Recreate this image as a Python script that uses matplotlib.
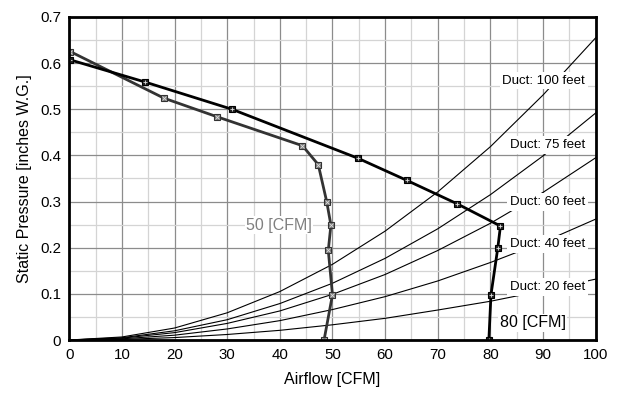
import numpy as np
import matplotlib.pyplot as plt

plt.rcParams['font.family'] = ['Liberation Sans', 'DejaVu Sans']

# duct system curves, read at every 10 CFM
DUCT_X = [0, 10, 20, 30, 40, 50, 60, 70, 80, 90, 100]
DUCT_100 = [0, 0.0066, 0.026, 0.059, 0.105, 0.164, 0.236, 0.321, 0.419, 0.531, 0.655]
DUCT_75 = [0, 0.0049, 0.020, 0.044, 0.079, 0.123, 0.177, 0.241, 0.315, 0.399, 0.492]
DUCT_60 = [0, 0.0040, 0.016, 0.036, 0.063, 0.099, 0.142, 0.194, 0.253, 0.320, 0.395]
DUCT_40 = [0, 0.0026, 0.0105, 0.024, 0.042, 0.066, 0.094, 0.128, 0.168, 0.212, 0.262]
DUCT_20 = [0, 0.0013, 0.0053, 0.012, 0.021, 0.033, 0.047, 0.065, 0.084, 0.107, 0.132]
DUCT_LABELS = ["Duct: 100 feet", "Duct: 75 feet", "Duct: 60 feet", "Duct: 40 feet", "Duct: 20 feet"]
DUCT_LABEL_Y = [0.562, 0.423, 0.299, 0.208, 0.115]

# fan curves
FAN50_X = [0.2, 18.0, 28.0, 44.3, 47.3, 48.9, 49.7, 49.2, 50.0, 48.4]
FAN50_P = [0.625, 0.524, 0.484, 0.421, 0.380, 0.300, 0.249, 0.194, 0.098, 0.0]
FAN80_X = [0.2, 14.4, 30.9, 54.8, 64.1, 73.7, 81.9, 81.4, 80.1, 79.7]
FAN80_P = [0.607, 0.559, 0.500, 0.394, 0.346, 0.295, 0.247, 0.200, 0.098, 0.0]

fig = plt.figure(figsize=(6.18, 3.94), dpi=100)
ax = fig.add_axes([0.112, 0.137, 0.852, 0.820])

ducts = [DUCT_100, DUCT_75, DUCT_60, DUCT_40, DUCT_20]
for d in ducts:
    ax.plot(DUCT_X, d, color='black', lw=0.8, zorder=3, clip_on=False)
for lab, ly in zip(DUCT_LABELS, DUCT_LABEL_Y):
    ax.text(98.0, ly, lab, ha='right', va='center', fontsize=9.5, zorder=4,
            bbox=dict(facecolor='white', edgecolor='none', pad=2))

ax.plot(FAN50_X, FAN50_P, color='#333333', lw=2, zorder=5)
ax.plot(FAN50_X, FAN50_P, ls='none', marker='s', ms=5, mfc='#777777', mec='#333333', mew=0.8, zorder=6)
ax.plot(FAN50_X, FAN50_P, ls='none', marker='x', ms=2.5, mec='#dddddd', mew=0.6, zorder=7)
ax.plot(FAN80_X, FAN80_P, color='black', lw=2, zorder=5)
ax.plot(FAN80_X, FAN80_P, ls='none', marker='s', ms=5, mfc='#222222', mec='black', mew=0.8, zorder=6)
ax.plot(FAN80_X, FAN80_P, ls='none', marker='+', ms=3, mec='#dddddd', mew=0.6, zorder=7)

ax.text(33.6, 0.249, "50 [CFM]", ha='left', va='center', fontsize=11.5, color='#808080', zorder=4,
        bbox=dict(facecolor='white', edgecolor='none', pad=1))
ax.text(81.8, 0.037, "80 [CFM]", ha='left', va='center', fontsize=11.5, color='black', zorder=4,
        bbox=dict(facecolor='white', edgecolor='none', pad=1))

ax.set_xlim(0, 100)
ax.set_ylim(0, 0.7)
ax.set_xticks(np.arange(0, 101, 10))
ax.set_xticks(np.arange(0, 101, 5), minor=True)
ax.set_yticks(np.arange(0, 0.71, 0.1))
ax.set_yticks(np.arange(0, 0.71, 0.05), minor=True)
ax.set_xticklabels([str(v) for v in range(0, 101, 10)])
ax.set_yticklabels(['0', '0.1', '0.2', '0.3', '0.4', '0.5', '0.6', '0.7'])
ax.grid(which='major', color='#8c8c8c', lw=0.9)
ax.grid(which='minor', color='#d4d4d4', lw=0.9)
ax.set_axisbelow(True)
ax.tick_params(which='both', length=0, labelsize=10.8, pad=6)
for s in ax.spines.values():
    s.set_linewidth(2)
    s.set_zorder(8)

ax.set_xlabel('Airflow [CFM]', fontsize=11.5, labelpad=7)
ax.set_ylabel('Static Pressure [inches W.G.]', fontsize=11.5, labelpad=6)

fig.savefig('out.png', dpi=100)
